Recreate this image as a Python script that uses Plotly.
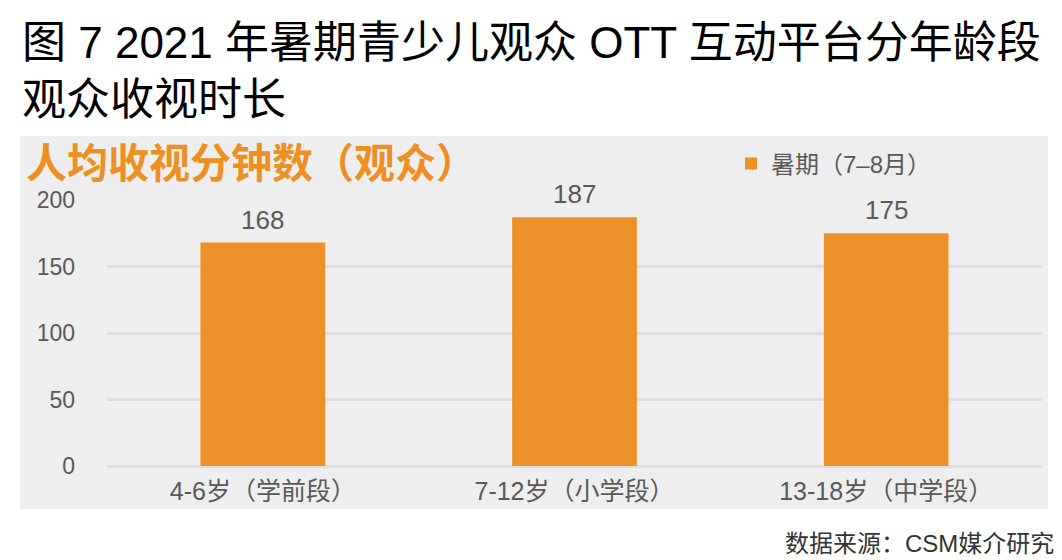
import plotly.graph_objects as go

categories = ["4-6岁（学前段）", "7-12岁（小学段）", "13-18岁（中学段）"]
values = [168, 187, 175]
series_name = "暑期（7–8月）"
title_lines = ["图 7 2021 年暑期青少儿观众 OTT 互动平台分年龄段", "观众收视时长"]
subtitle = "人均收视分钟数（观众）"
source = "数据来源：CSM媒介研究"

FONT = "Liberation Sans, Arial, Noto Sans CJK SC, sans-serif"
BAR = "#EE9028"
GRAY = "#595959"
PANEL = "#EEEEEE"

OFF = 8  # page body margin
W, H = 1062 - OFF, 560 - OFF
# plot area in screen pixels: x 107..1042, y 200..466
L, R = 107 - OFF, W - (1042 - OFF)
T, B = 200 - OFF, H - (466 - OFF)
pw, ph = W - L - R, H - T - B

def px(x):
    return (x - OFF - L) / pw

def py(y):
    return (H - B - (y - OFF)) / ph

fig = go.Figure()
fig.add_trace(go.Bar(
    x=categories, y=values, name=series_name,
    marker=dict(color=BAR, line=dict(width=0)),
    showlegend=True,
))
for c, v in zip(categories, values):
    fig.add_annotation(x=c, y=v, text=str(v), showarrow=False, yanchor="middle",
                       yshift=23, font=dict(size=26, color=GRAY, family=FONT))

fig.add_shape(type="rect", xref="paper", yref="paper",
              x0=px(20), x1=px(1048), y0=py(509), y1=py(136),
              fillcolor=PANEL, line=dict(width=0), layer="below")

for t, yc in zip(title_lines, [42, 100]):
    fig.add_annotation(text=t, xref="paper", yref="paper", x=px(20), y=py(yc),
                       xanchor="left", yanchor="middle", showarrow=False,
                       font=dict(size=44, color="#000000", family=FONT))

fig.add_annotation(text="<b>" + subtitle + "</b>", xref="paper", yref="paper",
                   x=px(24), y=py(164), xanchor="left", yanchor="middle", showarrow=False,
                   font=dict(size=41, color="#EE8F23", family=FONT))

fig.add_annotation(text=source, xref="paper", yref="paper",
                   x=px(1056), y=py(543), xanchor="right", yanchor="middle", showarrow=False,
                   font=dict(size=24, color="#333333", family=FONT))

fig.update_layout(
    width=W, height=H,
    margin=dict(l=L, r=R, t=T, b=B, autoexpand=False),
    paper_bgcolor="white", plot_bgcolor=PANEL,
    bargap=0.6,
    font=dict(family=FONT, color=GRAY),
    legend=dict(x=px(731), y=py(164), xanchor="left", yanchor="middle",
                bgcolor="rgba(0,0,0,0)", font=dict(size=24, color=GRAY, family=FONT),
                itemwidth=30),
    xaxis=dict(showgrid=False, showline=False, zeroline=False, ticks="",
               tickfont=dict(size=25, color=GRAY, family=FONT), ticklabelstandoff=8),
    yaxis=dict(range=[0, 200], tickvals=[0, 50, 100, 150, 200], showgrid=True,
               gridcolor="#DEDEDE", gridwidth=3, zeroline=True, zerolinecolor="#DEDEDE",
               zerolinewidth=3, showline=False, ticks="",
               tickfont=dict(size=23, color=GRAY, family=FONT), ticklabelstandoff=31),
)

fig.write_html("out.html")
